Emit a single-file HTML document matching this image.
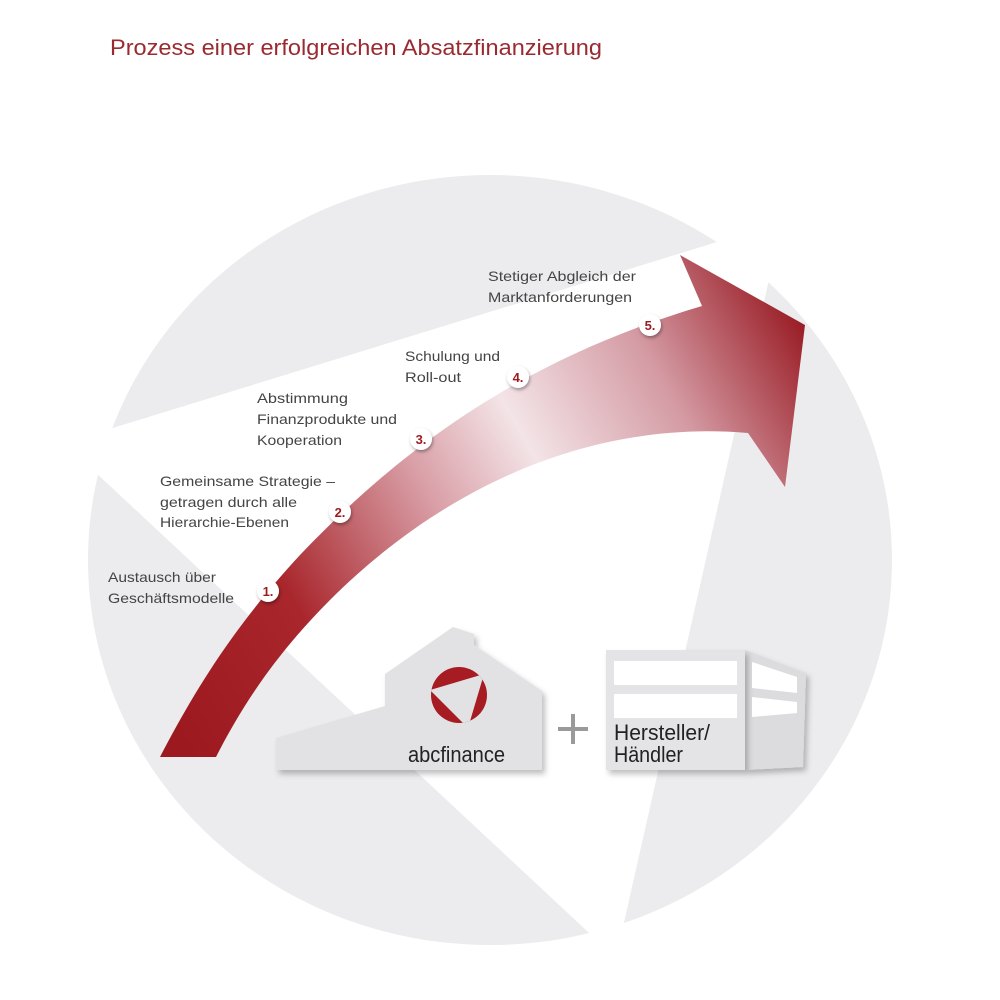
<!DOCTYPE html>
<html><head><meta charset="utf-8"><style>
html,body{margin:0;padding:0;background:#fff}
svg{display:block}
text{font-family:"Liberation Sans",sans-serif}
</style></head><body>
<svg width="1000" height="1000" viewBox="0 0 1000 1000" xmlns="http://www.w3.org/2000/svg">
<defs>
<linearGradient id="ag" gradientUnits="userSpaceOnUse" x1="160" y1="700" x2="805" y2="330">
<stop offset="0" stop-color="#9c1a1f"/>
<stop offset="0.22" stop-color="#a8262c"/>
<stop offset="0.45" stop-color="#d99ea6"/>
<stop offset="0.6" stop-color="#f3e4e7"/>
<stop offset="0.8" stop-color="#d49aa3"/>
<stop offset="1" stop-color="#9a1e27"/>
</linearGradient>
<filter id="sh" x="-20%" y="-20%" width="140%" height="140%"><feDropShadow dx="3" dy="4" stdDeviation="3" flood-color="#000" flood-opacity="0.25"/></filter>
<filter id="cs" x="-50%" y="-50%" width="200%" height="200%"><feDropShadow dx="1" dy="2" stdDeviation="1.5" flood-color="#000" flood-opacity="0.35"/></filter>
<clipPath id="lc"><circle cx="459" cy="695" r="28"/></clipPath>
</defs>
<text x="110" y="55" font-size="22" fill="#9b2a30" textLength="492" lengthAdjust="spacingAndGlyphs">Prozess einer erfolgreichen Absatzfinanzierung</text>

<ellipse cx="490" cy="560" rx="402" ry="385" fill="#ececee"/>
<polygon points="64,443 782,222 616,958" fill="#fff"/>

<path d="M160,757 C200,680 240,620 300,555 C400,450 520,360 702,306 L680,255 L805,325 L785,487 L748,433 C600,420 450,480 330,600 C280,650 245,700 216,757 Z" fill="url(#ag)"/>

<g font-size="14" fill="#444" lengthAdjust="spacingAndGlyphs">
<text x="488" y="281" textLength="148" lengthAdjust="spacingAndGlyphs">Stetiger Abgleich der</text>
<text x="488" y="302" textLength="144" lengthAdjust="spacingAndGlyphs">Marktanforderungen</text>
<text x="405" y="361" textLength="95" lengthAdjust="spacingAndGlyphs">Schulung und</text>
<text x="405" y="382" textLength="56" lengthAdjust="spacingAndGlyphs">Roll-out</text>
<text x="257" y="403" textLength="91" lengthAdjust="spacingAndGlyphs">Abstimmung</text>
<text x="257" y="424" textLength="140" lengthAdjust="spacingAndGlyphs">Finanzprodukte und</text>
<text x="257" y="445" textLength="85" lengthAdjust="spacingAndGlyphs">Kooperation</text>
<text x="160" y="486" textLength="175" lengthAdjust="spacingAndGlyphs">Gemeinsame Strategie –</text>
<text x="160" y="507" textLength="137" lengthAdjust="spacingAndGlyphs">getragen durch alle</text>
<text x="160" y="527" textLength="129" lengthAdjust="spacingAndGlyphs">Hierarchie-Ebenen</text>
<text x="108" y="582" textLength="108" lengthAdjust="spacingAndGlyphs">Austausch über</text>
<text x="108" y="603" textLength="126" lengthAdjust="spacingAndGlyphs">Geschäftsmodelle</text>
</g>

<g font-size="13" font-weight="bold" fill="#9b1b1f" text-anchor="middle">
<circle cx="268" cy="591" r="11" fill="#fff" filter="url(#cs)"/><text x="268" y="596">1.</text>
<circle cx="340" cy="512" r="11" fill="#fff" filter="url(#cs)"/><text x="340" y="517">2.</text>
<circle cx="421" cy="439" r="11" fill="#fff" filter="url(#cs)"/><text x="421" y="444">3.</text>
<circle cx="518" cy="377" r="11" fill="#fff" filter="url(#cs)"/><text x="518" y="382">4.</text>
<circle cx="650" cy="325" r="11" fill="#fff" filter="url(#cs)"/><text x="650" y="330">5.</text>
</g>

<polygon points="276,738 385,706 385,674 453,627 474,634 474,645 542,691 542,770 276,770" fill="#e2e2e4" filter="url(#sh)"/>
<circle cx="459" cy="695" r="28" fill="#a61c22"/>
<polygon points="430,690 484,674 468,728" fill="#e2e2e4" clip-path="url(#lc)"/>
<polygon points="436,691 477,680 467,721" fill="#e2e2e4"/>
<text x="408" y="762" font-size="22" fill="#222" textLength="97" lengthAdjust="spacingAndGlyphs">abcfinance</text>

<rect x="558" y="727" width="30" height="4" fill="#9a9a9a"/>
<rect x="571" y="714" width="4" height="30" fill="#9a9a9a"/>

<polygon points="745,650 806,673 803,767 745,770" fill="#dcdcde" filter="url(#sh)"/>
<rect x="606" y="650" width="139" height="120" fill="#e4e4e6" filter="url(#sh)"/>
<rect x="614" y="661" width="123" height="24" fill="#fff"/>
<rect x="614" y="694" width="123" height="24" fill="#fff"/>
<polygon points="752,662 797,677 797,693 752,688" fill="#fff"/>
<polygon points="752,697 797,702 797,713 752,717" fill="#fff"/>
<text x="614" y="740" font-size="22" fill="#222" textLength="96" lengthAdjust="spacingAndGlyphs">Hersteller/</text>
<text x="614" y="762" font-size="22" fill="#222" textLength="69" lengthAdjust="spacingAndGlyphs">Händler</text>
</svg>
</body></html>
